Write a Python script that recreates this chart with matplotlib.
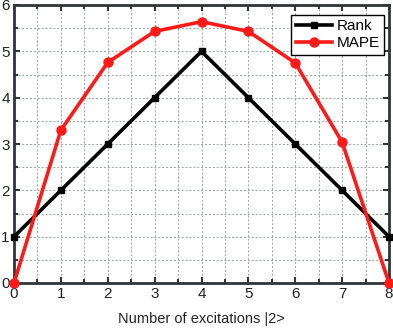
import numpy as np
import matplotlib.pyplot as plt
from matplotlib.ticker import MultipleLocator

plt.rcParams['font.family'] = ['Liberation Sans', 'DejaVu Sans']

# data
excitations = [0, 1, 2, 3, 4, 5, 6, 7, 8]
rank = [1, 2, 3, 4, 5, 4, 3, 2, 1]
mape = [0, 3.30, 4.76, 5.43, 5.64, 5.43, 4.75, 3.04, 0]

fig = plt.figure(figsize=(3.93, 3.29), dpi=100)
ax = fig.add_axes([14 / 393, 1 - 283 / 329, 375 / 393, 278 / 329])

ax.plot(excitations, rank, color='black', lw=2.6, marker='s', ms=5, label='Rank',
        clip_on=False, zorder=3)
ax.plot(excitations, mape, color='#ff1a1a', lw=2.6, marker='o', ms=6.5, label='MAPE',
        clip_on=False, zorder=4)

ax.set_xlim(0, 8)
ax.set_ylim(0, 6)
ax.xaxis.set_major_locator(MultipleLocator(1))
ax.yaxis.set_major_locator(MultipleLocator(1))
ax.xaxis.set_minor_locator(MultipleLocator(0.5))
ax.yaxis.set_minor_locator(MultipleLocator(0.5))

ax.grid(which='both', color='#9aa3a8', ls=(0, (2, 2)), lw=0.7)
ax.set_axisbelow(True)

for s in ax.spines.values():
    s.set_color('#2f3538')
    s.set_linewidth(2)
ax.tick_params(which='both', direction='in', top=True, right=True,
               color='#2f3538', labelsize=11, labelcolor='#222222', pad=3)
ax.tick_params(which='major', length=4, width=1.5)
ax.tick_params(which='minor', length=3, width=1.5)

ax.set_xlabel('Number of excitations |2>', fontsize=10.5, color='#222222', labelpad=8)

leg = ax.legend(loc='upper right', fontsize=11, fancybox=False, edgecolor='black',
                framealpha=1, borderaxespad=0.0, bbox_to_anchor=(0.987, 0.965),
                handlelength=2.35, borderpad=0.3, labelspacing=0.2, handletextpad=0.3)
leg.get_frame().set_linewidth(1)

fig.savefig('out.png', dpi=100)
